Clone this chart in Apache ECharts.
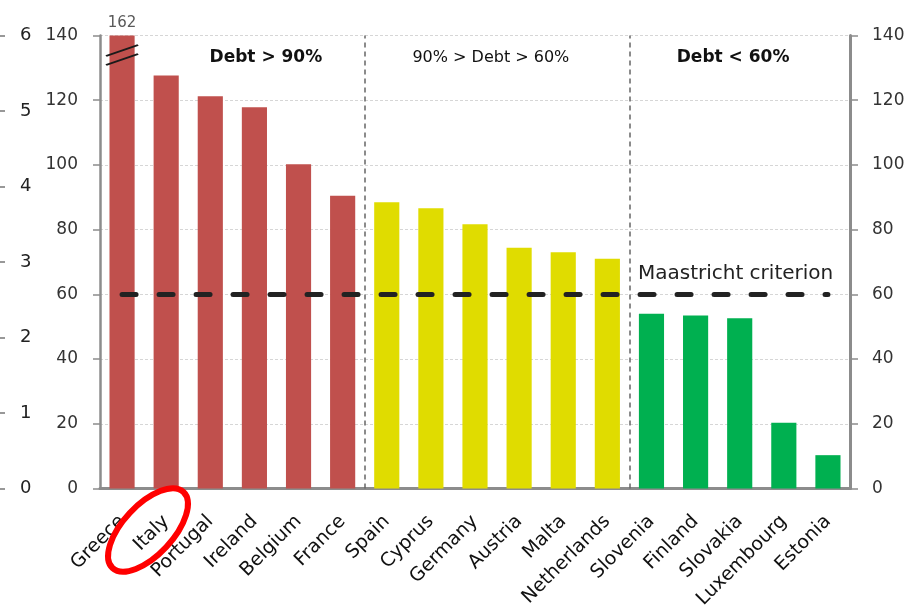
<!DOCTYPE html>
<html>
<head>
<meta charset="utf-8">
<script src="https://cdn.jsdelivr.net/npm/echarts@6/dist/echarts.min.js"></script>
<style>
html,body{margin:0;padding:0;background:#fff;}
#chart{width:913px;height:606px;}
</style>
</head>
<body>
<div id="chart"></div>
<script>
// ---- data ----
const categories = ['Greece','Italy','Portugal','Ireland','Belgium','France','Spain','Cyprus','Germany','Austria','Malta','Netherlands','Slovenia','Finland','Slovakia','Luxembourg','Estonia'];
const debt = [162, 127.6, 121.2, 117.8, 100.2, 90.5, 88.5, 86.6, 81.7, 74.4, 73.0, 71.0, 54.0, 53.5, 52.6, 20.3, 10.3];
const thresholds = [90, 60];
const criterion = 60;
const criterionLabel = 'Maastricht criterion';
const groupHeaders = ['Debt > 90%', '90% > Debt > 60%', 'Debt < 60%'];
const axisMin = 0, axisMax = 140, axisStep = 20;
const outerAxisMax = 6, outerAxisStep = 1;

// ---- style ----
const RED = '#C0504D', YELLOW = '#E0DC00', GREEN = '#00B050';
const AXIS = '#8c8c8c';
const FONT = 'DejaVu Sans';

const dividerIdx = thresholds.map(t => debt.findIndex(v => v <= t));
const n = categories.length;
const hiddenLabel = {symbolSize: 1, itemStyle: {color: 'rgba(0,0,0,0)'}};

const chart = echarts.init(document.getElementById('chart'), null, {renderer:'canvas'});
const option = {
  animation: false,
  backgroundColor: '#fff',
  grid: {left: 100, right: 63, top: 35.5, bottom: 117.5, outerBoundsMode: 'none', containLabel: false},
  xAxis: [
    {
      type: 'category', data: categories,
      axisLine: {lineStyle: {color: AXIS, width: 3}},
      axisTick: {length: 7, lineStyle: {color: AXIS, width: 1.5}},
      axisLabel: {rotate: 45, interval: 0, margin: 30, fontSize: 19, color: '#111', fontFamily: FONT}
    },
    {type: 'value', min: 0, max: n, show: false}
  ],
  yAxis: [
    {
      type: 'value', min: axisMin, max: axisMax, interval: axisStep, position: 'left',
      axisLine: {show: true, lineStyle: {color: AXIS, width: 2.5}},
      axisTick: {show: true, length: 7, lineStyle: {color: AXIS, width: 1.5}},
      axisLabel: {margin: 22, fontSize: 17, color: '#333', fontFamily: FONT},
      splitLine: {show: true, lineStyle: {color: '#d6d6d6', width: 1, type: [3, 2]}}
    },
    {
      type: 'value', min: axisMin, max: axisMax, interval: axisStep, position: 'right',
      axisLine: {show: true, lineStyle: {color: AXIS, width: 3}},
      axisTick: {show: true, length: 8, lineStyle: {color: AXIS, width: 1.5}},
      axisLabel: {margin: 22, fontSize: 17, color: '#333', fontFamily: FONT},
      splitLine: {show: false}
    },
    {
      type: 'value', min: 0, max: outerAxisMax, interval: outerAxisStep, position: 'left', offset: 95,
      axisLine: {show: false},
      axisTick: {show: true, length: 5, lineStyle: {color: '#777', width: 1.5}},
      axisLabel: {inside: true, margin: 15, fontSize: 18, color: '#222', fontFamily: FONT},
      splitLine: {show: false}
    }
  ],
  series: [
    {
      type: 'bar', data: debt, xAxisIndex: 0, yAxisIndex: 0,
      barWidth: '57%', clip: true,
      itemStyle: {color: p => p.value > thresholds[0] ? RED : (p.value > thresholds[1] ? YELLOW : GREEN)},
      markLine: {
        silent: true, symbol: 'none', animation: false,
        lineStyle: {color: '#222', width: 5, type: [14, 23], cap: 'round'},
        label: {show: false},
        data: [[{coord: [categories[0], criterion]}, {coord: [categories[n - 1], criterion]}]]
      }
    },
    {
      type: 'scatter', data: [], xAxisIndex: 1, yAxisIndex: 0, silent: true,
      markLine: {
        silent: true, symbol: 'none', animation: false,
        lineStyle: {color: '#666', width: 1.5, type: [5, 4]},
        label: {show: false},
        data: dividerIdx.map(i => ({xAxis: i}))
      },
      markPoint: {
        silent: true, animation: false,
        data: [
          Object.assign({coord: [3.76, 133],
           label: {show: true, position: 'inside', formatter: groupHeaders[0], fontSize: 17, fontWeight: 'bold', color: '#111', fontFamily: FONT}}, hiddenLabel),
          Object.assign({coord: [8.86, 133],
           label: {show: true, position: 'inside', formatter: groupHeaders[1], fontSize: 16, color: '#111', fontFamily: FONT}}, hiddenLabel),
          Object.assign({coord: [14.35, 133],
           label: {show: true, position: 'inside', formatter: groupHeaders[2], fontSize: 17, fontWeight: 'bold', color: '#111', fontFamily: FONT}}, hiddenLabel),
          Object.assign({coord: [16.62, criterion + 6.2],
           label: {show: true, position: 'inside', align: 'right', verticalAlign: 'middle', formatter: criterionLabel, fontSize: 20, color: '#222', fontFamily: FONT}}, hiddenLabel),
          Object.assign({coord: [0.5, axisMax],
           label: {show: true, position: 'top', distance: 4, formatter: String(debt[0]), fontSize: 15, color: '#595959', fontFamily: FONT}}, hiddenLabel),
          {coord: [0.5, 134], symbol: 'path://M0,11 L30,0 M0,20 L30,9', symbolSize: [32, 20],
           itemStyle: {color: 'rgba(0,0,0,0)', borderColor: '#1a1a1a', borderWidth: 2.2}, label: {show: false}}
        ]
      }
    }
  ],
  graphic: [
    {type: 'ellipse', x: 148, y: 530, rotation: 0.82, shape: {cx: 0, cy: 0, rx: 52, ry: 25},
     style: {fill: 'none', stroke: '#FF0000', lineWidth: 6}, z: 100}
  ]
};
chart.setOption(option);
</script>
</body>
</html>
